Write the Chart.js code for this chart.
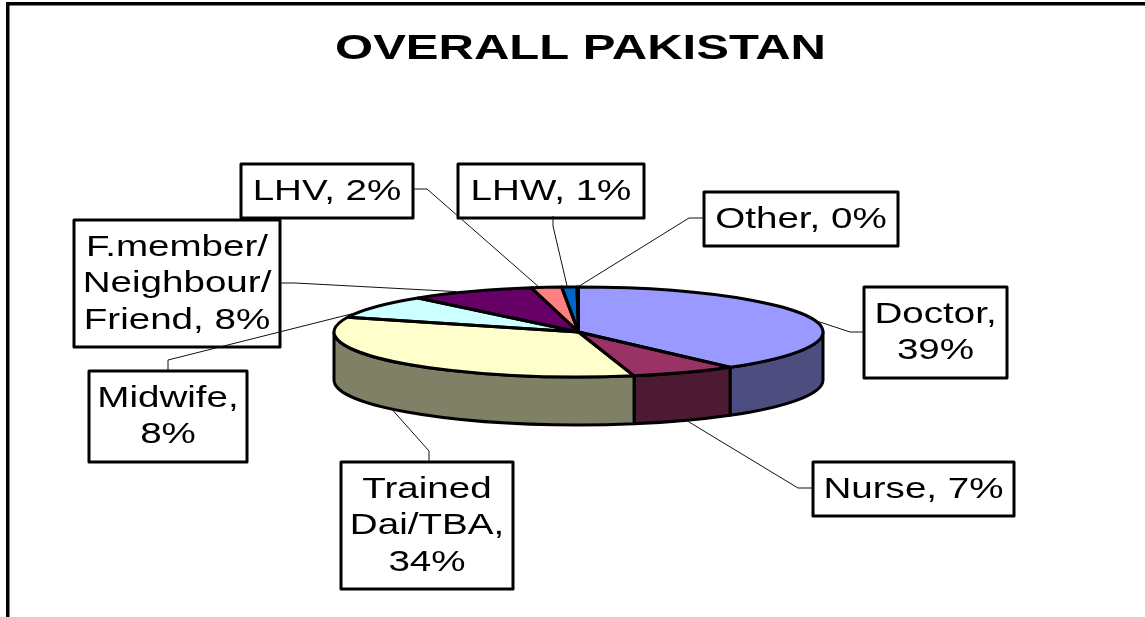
<!DOCTYPE html>
<html>
<head>
<meta charset="utf-8">
<style>html,body{margin:0;padding:0;background:#fff}canvas{display:block}</style>
<script src="https://cdn.jsdelivr.net/npm/chart.js@4/dist/chart.umd.js"></script>
</head>
<body>
<canvas id="c" width="1145" height="617"></canvas>
<script>
const titleText = 'OVERALL PAKISTAN';
const categories = ['Doctor', 'Nurse', 'Trained Dai/TBA', 'Midwife', 'F.member/ Neighbour/ Friend', 'LHV', 'LHW', 'Other'];
const values = [39.4, 7.0, 34.0, 8.3, 8.3, 2.0, 1.0, 0.1];
const topColors = ['#9999FF', '#993366', '#FFFFCC', '#CCFFFF', '#660066', '#FF8080', '#0066CC', '#CCCCFF'];
const sideColors = ['#4D4D80', '#4D1A33', '#808066', '#668080', '#330033', '#804040', '#003366', '#666680'];
const labelLines = [
  ['Doctor,', '39%'], ['Nurse, 7%'], ['Trained', 'Dai/TBA,', '34%'], ['Midwife,', '8%'],
  ['F.member/', 'Neighbour/', 'Friend, 8%'], ['LHV, 2%'], ['LHW, 1%'], ['Other, 0%']
];
// Label box layout: [left, top, right, bottom]
const boxes = [
  [864, 287, 1007, 378], [813, 462, 1014, 516], [341, 462, 513, 589], [89, 371, 247, 462],
  [74, 220, 280, 347], [241, 164, 413, 218], [458, 164, 644, 218], [704, 192, 898, 246]
];
// Leader line layout: the fixed bend points, then a nudge from the slice's mid-edge point
const leaderBends = [
  [[864, 332], [850, 332]], [[813, 488], [798, 488]], [[429, 462], [429, 451]], [[168, 371], [168, 360]],
  [[280, 283], [295, 283]], [[413, 189], [427, 189]], [[553, 216], [553, 226]], [[704, 218], [689, 218]]
];
const leaderNudge = [[8, 4], [2, 0], [-5, -1], [-24, 7], [-15, 0], [-7, 0], [-2, 0], [0, 0]];

const SQUASH = 45 / 244.5;   // vertical tilt of the pie
const DEPTH = 48;            // wall height
const TEXT_STRETCH = 1.33;
const TITLE_STRETCH = 1.4;

const pie3d = {
  id: 'pie3d',
  afterLayout(chart) {
    const tb = chart.titleBlock;
    if (tb && !tb._stretched) {
      tb._stretched = true;
      const orig = tb.draw.bind(tb);
      tb.draw = function () {
        const ctx = chart.ctx, cx = (tb.left + tb.right) / 2;
        ctx.save();
        ctx.translate(cx + 2, 0);
        ctx.scale(TITLE_STRETCH, 1);
        ctx.translate(-cx, 0);
        orig();
        ctx.restore();
      };
    }
  },
  beforeDraw(chart) {
    const ctx = chart.ctx;
    ctx.save();
    ctx.fillStyle = '#000';
    ctx.fillRect(0 + 6, 2, 1145 - 6, 3.5);
    ctx.fillRect(6, 2, 3.5, 617 - 2);
    ctx.restore();
  },
  beforeDatasetsDraw(chart) {
    const ctx = chart.ctx, arcs = chart.getDatasetMeta(0).data;
    const a0 = arcs[0], cx = a0.x, cy = a0.y, rx = a0.outerRadius, ry = rx * SQUASH;
    ctx.save();
    ctx.lineWidth = 3;
    ctx.lineJoin = 'round';
    ctx.strokeStyle = '#000';
    arcs.forEach((arc, i) => {
      const s = Math.max(arc.startAngle, 0), e = Math.min(arc.endAngle, Math.PI);
      if (e <= s) return;
      ctx.beginPath();
      ctx.ellipse(cx, cy, rx, ry, 0, s, e);
      ctx.lineTo(cx + rx * Math.cos(e), cy + ry * Math.sin(e) + DEPTH);
      ctx.ellipse(cx, cy + DEPTH, rx, ry, 0, e, s, true);
      ctx.closePath();
      ctx.fillStyle = sideColors[i];
      ctx.fill();
      ctx.stroke();
    });
    ctx.restore();
    ctx.save();
    ctx.translate(cx, cy);
    ctx.scale(1, SQUASH);
    ctx.translate(-cx, -cy);
  },
  afterDatasetsDraw(chart) {
    const ctx = chart.ctx, arcs = chart.getDatasetMeta(0).data;
    ctx.restore();
    const a0 = arcs[0], cx = a0.x, cy = a0.y, rx = a0.outerRadius, ry = rx * SQUASH;
    ctx.save();
    ctx.lineWidth = 3;
    ctx.lineJoin = 'round';
    ctx.strokeStyle = '#000';
    arcs.forEach(arc => {
      ctx.beginPath();
      ctx.moveTo(cx, cy);
      ctx.ellipse(cx, cy, rx, ry, 0, arc.startAngle, arc.endAngle);
      ctx.closePath();
      ctx.stroke();
    });
    ctx.restore();

    // Data labels: boxes, then leader lines, then text
    ctx.save();
    boxes.forEach(b => {
      ctx.fillStyle = '#fff';
      ctx.fillRect(b[0], b[1], b[2] - b[0], b[3] - b[1]);
      ctx.lineWidth = 3;
      ctx.strokeStyle = '#000';
      ctx.lineJoin = 'round';
      ctx.strokeRect(b[0], b[1], b[2] - b[0], b[3] - b[1]);
    });
    ctx.lineWidth = 1;
    ctx.strokeStyle = '#111';
    arcs.forEach((arc, i) => {
      const mid = (arc.startAngle + arc.endAngle) / 2;
      const sin = Math.sin(mid);
      const ax = cx + rx * Math.cos(mid) + leaderNudge[i][0];
      const ay = cy + ry * sin + (sin > 0.5 ? DEPTH : 0) + leaderNudge[i][1];
      ctx.beginPath();
      ctx.moveTo(leaderBends[i][0][0], leaderBends[i][0][1]);
      ctx.lineTo(leaderBends[i][1][0], leaderBends[i][1][1]);
      ctx.lineTo(ax, ay);
      ctx.stroke();
    });
    ctx.fillStyle = '#000';
    ctx.font = '29px "Liberation Sans", Arial, sans-serif';
    ctx.textAlign = 'center';
    ctx.textBaseline = 'alphabetic';
    labelLines.forEach((lines, i) => {
      const b = boxes[i], mx = (b[0] + b[2]) / 2, my = (b[1] + b[3]) / 2;
      lines.forEach((t, k) => {
        ctx.save();
        ctx.translate(mx, my + 8.5 + (k - (lines.length - 1) / 2) * 36.5);
        ctx.scale(TEXT_STRETCH, 1);
        ctx.fillText(t, 0, 0);
        ctx.restore();
      });
    });
    ctx.restore();
  }
};

new Chart(document.getElementById('c'), {
  type: 'pie',
  data: {
    labels: categories,
    datasets: [{ data: values, backgroundColor: topColors, borderWidth: 0 }]
  },
  options: {
    responsive: false,
    animation: false,
    layout: { padding: { left: 334, right: 322, top: 0, bottom: 40.5 } },
    plugins: {
      legend: { display: false },
      tooltip: { enabled: false },
      title: {
        display: true,
        text: titleText,
        color: '#000',
        font: { family: '"Liberation Sans", Arial, sans-serif', size: 35, weight: 'bold' },
        padding: { top: 28, bottom: 17.5 }
      }
    }
  },
  plugins: [pie3d]
});
</script>
</body>
</html>
